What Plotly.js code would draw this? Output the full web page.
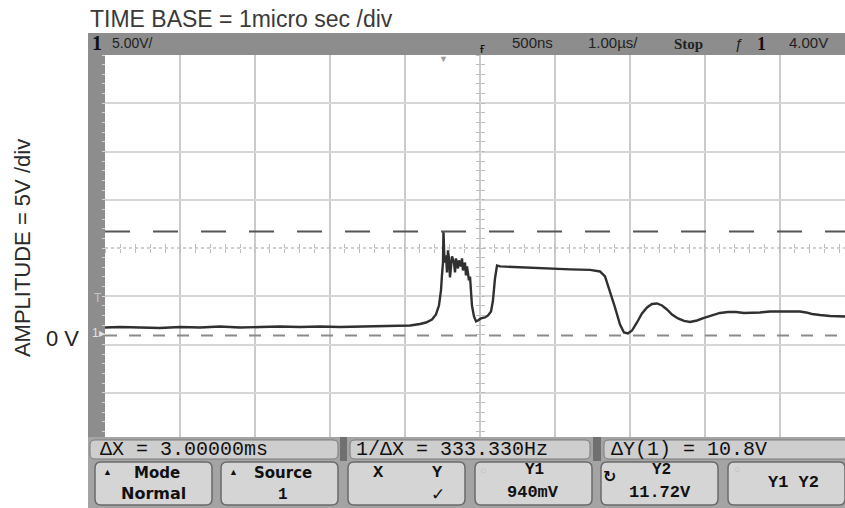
<!DOCTYPE html>
<html>
<head>
<meta charset="utf-8">
<script src="https://cdn.plot.ly/plotly-3.0.1.min.js"></script>
<style>html,body{margin:0;padding:0;background:#fff}#chart{width:845px;height:508px}</style>
</head>
<body>
<div id="chart"></div>
<script>
// ---- data (time in µs, amplitude in V) ----
const timeUs = [-5.00,-4.80,-4.53,-4.27,-4.00,-3.73,-3.47,-3.20,-2.93,-2.67,-2.40,-2.13,-1.87,-1.60,-1.33,-1.07,-0.93,-0.80,-0.72,-0.64,-0.587,-0.547,-0.52,-0.507,-0.493,-0.487,-0.473,-0.453,-0.44,-0.427,-0.413,-0.40,-0.387,-0.373,-0.347,-0.333,-0.32,-0.293,-0.28,-0.253,-0.24,-0.227,-0.20,-0.187,-0.173,-0.147,-0.133,-0.12,-0.107,-0.08,-0.053,-0.027,0.013,0.067,0.107,0.147,0.173,0.20,0.227,0.267,0.40,0.667,0.933,1.20,1.467,1.60,1.667,1.733,1.80,1.867,1.92,1.973,2.027,2.093,2.16,2.227,2.293,2.36,2.427,2.493,2.56,2.64,2.72,2.80,2.893,2.987,3.093,3.20,3.307,3.413,3.52,3.627,3.733,3.867,4.00,4.133,4.267,4.347,4.427,4.533,4.667,4.867];
const voltV = [1.76,1.81,1.76,1.71,1.81,1.76,1.87,1.76,1.81,1.87,1.81,1.87,1.81,1.87,1.87,1.92,1.97,2.13,2.28,2.59,3.11,4.04,5.60,7.16,8.50,11.72,8.50,9.23,7.47,9.75,8.92,6.95,8.50,9.13,8.50,7.47,8.92,7.88,8.71,8.09,8.92,7.67,8.50,7.16,8.09,6.64,7.05,5.50,4.04,2.90,2.39,2.49,2.70,2.80,3.01,3.42,4.56,6.84,8.19,8.09,8.04,7.93,7.83,7.78,7.73,7.57,7.05,5.50,3.84,2.07,1.24,1.14,1.45,2.28,3.21,3.84,4.20,4.25,4.04,3.63,3.11,2.70,2.44,2.33,2.49,2.75,3.01,3.27,3.37,3.37,3.27,3.27,3.32,3.42,3.42,3.42,3.42,3.32,3.16,3.06,2.96,2.90];
const cursorY1 = 0.94;   // Y1 = 940mV
const cursorY2 = 11.72;  // Y2 = 11.72V
const centerV = 10;

const xRange = [-5, 4.867];
const yRange = [-10, 30];

const topBarLabels = ['5.00V/', '500ns', '1.00µs/', 'Stop', 'ƒ', '4.00V'];
const readouts = ['ΔX = 3.00000ms', '1/ΔX = 333.330Hz', 'ΔY(1) = 10.8V'];

// ---- pixel helpers for decoration (paper coords) ----
const W = 845, H = 508, ML = 105, MR = 0, MT = 55, MB = 67;
const PW = W - ML - MR, PH = H - MT - MB;
const X = px => (px - ML) / PW;
const Y = py => (H - MB - py) / PH;
function rr(x0, y0, x1, y1, r) {
  const P = (x, y) => X(x).toFixed(5) + ',' + Y(y).toFixed(5);
  return `M${P(x0 + r, y0)} L${P(x1 - r, y0)} Q${P(x1, y0)} ${P(x1, y0 + r)} L${P(x1, y1 - r)} Q${P(x1, y1)} ${P(x1 - r, y1)} L${P(x0 + r, y1)} Q${P(x0, y1)} ${P(x0, y1 - r)} L${P(x0, y0 + r)} Q${P(x0, y0)} ${P(x0 + r, y0)} Z`;
}
function rect(x0, y0, x1, y1, fill, layer) {
  return {type: 'rect', xref: 'paper', yref: 'paper', x0: X(x0), x1: X(x1), y0: Y(y1), y1: Y(y0),
          fillcolor: fill, line: {width: 0}, layer: layer || 'above'};
}
function btn(x0, y0, x1, y1, fill) {
  return {type: 'path', xref: 'paper', yref: 'paper', path: rr(x0, y0, x1, y1, 6),
          fillcolor: fill, line: {color: '#6a6a6a', width: 1.5}, layer: 'above'};
}
function txt(text, px, py, opts) {
  opts = opts || {};
  return Object.assign({
    text: text, xref: 'paper', yref: 'paper', x: X(px), y: Y(py), showarrow: false,
    xanchor: opts.xa || 'left', yanchor: 'middle',
    font: {family: opts.family || 'Liberation Sans, Arial, sans-serif', size: opts.size || 15,
           color: opts.color || '#111', weight: opts.weight || 'normal'}
  }, opts.extra || {});
}

const MONO = 'Liberation Mono, DejaVu Sans Mono, monospace';
const BOLDSANS = 'DejaVu Sans, sans-serif';

const traces = [
  {x: timeUs, y: voltV, type: 'scatter', mode: 'lines', line: {color: '#303030', width: 2.4},
   showlegend: false, hoverinfo: 'skip'},
  {x: [], y: [], xaxis: 'x2', yaxis: 'y2', type: 'scatter', showlegend: false},
  {x: [], y: [], xaxis: 'x3', yaxis: 'y3', type: 'scatter', showlegend: false},
  {x: [], y: [], xaxis: 'x', yaxis: 'y4', type: 'scatter', showlegend: false}
];

const centerTickAxisX = (ticks) => ({
  overlaying: 'x', anchor: 'free', position: (centerV - yRange[0]) / (yRange[1] - yRange[0]),
  range: xRange, tick0: 0, dtick: 0.2, ticks: ticks, ticklen: 4, tickwidth: 1, tickcolor: '#bdbdbd',
  showgrid: false, zeroline: false, showticklabels: false, showline: false, fixedrange: true
});
const centerTickAxisY = (ticks) => ({
  overlaying: 'y', anchor: 'free', position: (0 - xRange[0]) / (xRange[1] - xRange[0]), side: 'left',
  range: yRange, tick0: 0, dtick: 1, ticks: ticks, ticklen: 4, tickwidth: 1, tickcolor: '#bdbdbd',
  showgrid: false, zeroline: false, showticklabels: false, showline: false, fixedrange: true
});

const layout = {
  width: W, height: H,
  margin: {l: ML, r: MR, t: MT, b: MB, pad: 0},
  paper_bgcolor: '#ffffff', plot_bgcolor: '#ffffff',
  showlegend: false,
  title: {text: 'TIME BASE = 1micro sec /div', xref: 'container', yref: 'container',
          x: 90 / W, xanchor: 'left', y: 1 - 19 / H, yanchor: 'middle',
          font: {family: 'Liberation Sans, Arial, sans-serif', size: 23, color: '#3a3a3a'}},
  xaxis: {range: xRange, tick0: 0, dtick: 1, showgrid: true, gridcolor: '#cbcbcb', gridwidth: 2,
          zeroline: false, showticklabels: false, ticks: '', showline: false, fixedrange: true},
  yaxis: {range: yRange, tickmode: 'array', tickvals: [-5, 0, 5, 15, 20, 25], showgrid: true,
          gridcolor: '#d6d6d6', gridwidth: 2, zeroline: false, showticklabels: false, ticks: '',
          showline: false, fixedrange: true,
          title: {text: 'AMPLITUDE = 5V /div', standoff: 67,
                  font: {family: 'Liberation Sans, Arial, sans-serif', size: 22, color: '#2a2a2a'}}},
  xaxis2: centerTickAxisX('outside'),
  xaxis3: centerTickAxisX('inside'),
  yaxis2: centerTickAxisY('outside'),
  yaxis3: centerTickAxisY('inside'),
  yaxis4: {overlaying: 'y', anchor: 'free', position: 0, side: 'left', range: yRange, tick0: 0, dtick: 1,
           ticks: 'outside', ticklen: 3, tickwidth: 1, tickcolor: '#d8d8d8', showgrid: false,
           zeroline: false, showticklabels: false, showline: false, fixedrange: true},
  shapes: [
    // center horizontal dotted graticule line
    {type: 'line', xref: 'paper', yref: 'y', x0: 0, x1: 1, y0: centerV, y1: centerV,
     line: {color: '#cfcfcf', width: 2, dash: 'dot'}, layer: 'below'},
    // cursors
    {type: 'line', xref: 'paper', yref: 'y', x0: 0, x1: 1, y0: cursorY2, y1: cursorY2,
     line: {color: '#555555', width: 2, dash: '25px,23px'}},
    {type: 'line', xref: 'paper', yref: 'y', x0: 0, x1: 1, y0: cursorY1, y1: cursorY1,
     line: {color: '#8a8a8a', width: 2, dash: '12px,12px'}},
    // scope frame
    rect(88, 33, 105, 441, '#8d8d8d', 'below'),
    rect(88, 33, 845, 55, '#8d8d8d'),
    rect(88, 437, 845, 508, '#a4a4a4'),
    // readout row
    {type: 'path', xref: 'paper', yref: 'paper', path: rr(90, 440, 338, 459, 5), fillcolor: '#cecece',
     line: {color: '#7d7d7d', width: 1}, layer: 'above'},
    {type: 'path', xref: 'paper', yref: 'paper', path: rr(350, 440, 590, 459, 5), fillcolor: '#cecece',
     line: {color: '#7d7d7d', width: 1}, layer: 'above'},
    {type: 'path', xref: 'paper', yref: 'paper', path: rr(604, 440, 852, 459, 5), fillcolor: '#cecece',
     line: {color: '#7d7d7d', width: 1}, layer: 'above'},
    rect(340, 437, 347, 461, '#707070'),
    rect(593, 437, 601, 461, '#707070'),
    // softkeys
    btn(95, 462, 212, 505, '#d5d5d5'),
    btn(221, 462, 338, 505, '#d5d5d5'),
    btn(348, 462, 465, 505, '#d5d5d5'),
    btn(475, 462, 592, 505, '#d5d5d5'),
    btn(601, 462, 718, 505, '#d5d5d5'),
    btn(728, 462, 845, 505, '#d5d5d5')
  ],
  annotations: [
    // top bar
    txt('1', 90, 43, {size: 20, weight: 'bold', family: 'Liberation Serif, serif', color: '#111'}),
    txt(topBarLabels[0], 110, 43, {size: 14, color: '#222'}),
    txt('ғ', 478, 48, {size: 14, color: '#111'}),
    txt(topBarLabels[1], 510, 43, {size: 15, color: '#222'}),
    txt(topBarLabels[2], 586, 43, {size: 15, color: '#222'}),
    txt(topBarLabels[3], 672, 44, {size: 15, weight: 'bold', family: 'Liberation Serif, serif', color: '#222'}),
    txt(topBarLabels[4] + ' ', 733, 44, {size: 15, color: '#222'}),
    txt('1', 755, 44, {size: 18, weight: 'bold', family: 'Liberation Serif, serif', color: '#111'}),
    txt(topBarLabels[5], 787, 43, {size: 15, color: '#222'}),
    txt('▼', 443, 59, {size: 9, color: '#9a9a9a', xa: 'center'}),
    // left bar markers
    txt('T', 92, 298, {size: 12, color: '#c4c4c4'}),
    txt('1▸', 90, 333, {size: 12, color: '#e2e2e2'}),
    // 0 V label
    txt('0 V', 81, 338, {size: 22, xa: 'right', color: '#222'}),
    // readouts
    txt(readouts[0], 98, 449.5, {size: 20, family: MONO}),
    txt(readouts[1], 354, 449.5, {size: 20, family: MONO}),
    txt(readouts[2], 609, 449.5, {size: 20, family: MONO}),
    // softkey labels
    txt('▲', 101, 472, {size: 9}),
    txt('Mode', 157, 473, {size: 15, weight: 'bold', family: BOLDSANS, xa: 'center'}),
    txt('Normal', 153, 493, {size: 16, weight: 'bold', family: BOLDSANS, xa: 'center'}),
    txt('▲', 227, 472, {size: 9}),
    txt('Source', 283, 473, {size: 15, weight: 'bold', family: BOLDSANS, xa: 'center'}),
    txt('1', 283, 495, {size: 16, weight: 'bold', family: MONO, xa: 'center'}),
    txt('X', 378, 472, {size: 17, weight: 'bold', family: MONO, xa: 'center'}),
    txt('Y', 437, 472, {size: 17, weight: 'bold', family: MONO, xa: 'center'}),
    txt('✓', 438, 494, {size: 17, weight: 'bold', family: 'DejaVu Sans, sans-serif', xa: 'center'}),
    txt('○', 483, 470, {size: 11, color: '#bdbdbd', xa: 'center'}),
    txt('Y1', 534, 470, {size: 16, weight: 'bold', family: MONO, xa: 'center'}),
    txt('940mV', 533, 492, {size: 17, weight: 'bold', family: MONO, xa: 'center'}),
    txt('↻', 609, 476, {size: 16, weight: 'bold', family: 'DejaVu Sans, sans-serif', xa: 'center'}),
    txt('Y2', 661, 470, {size: 16, weight: 'bold', family: MONO, xa: 'center'}),
    txt('11.72V', 660, 492, {size: 17, weight: 'bold', family: MONO, xa: 'center'}),
    txt('○', 737, 469, {size: 11, color: '#bdbdbd', xa: 'center'}),
    txt('Y1 Y2', 793, 482, {size: 17, weight: 'bold', family: MONO, xa: 'center'})
  ]
};

Plotly.newPlot('chart', traces, layout, {staticPlot: true, displayModeBar: false});
</script>
</body>
</html>
